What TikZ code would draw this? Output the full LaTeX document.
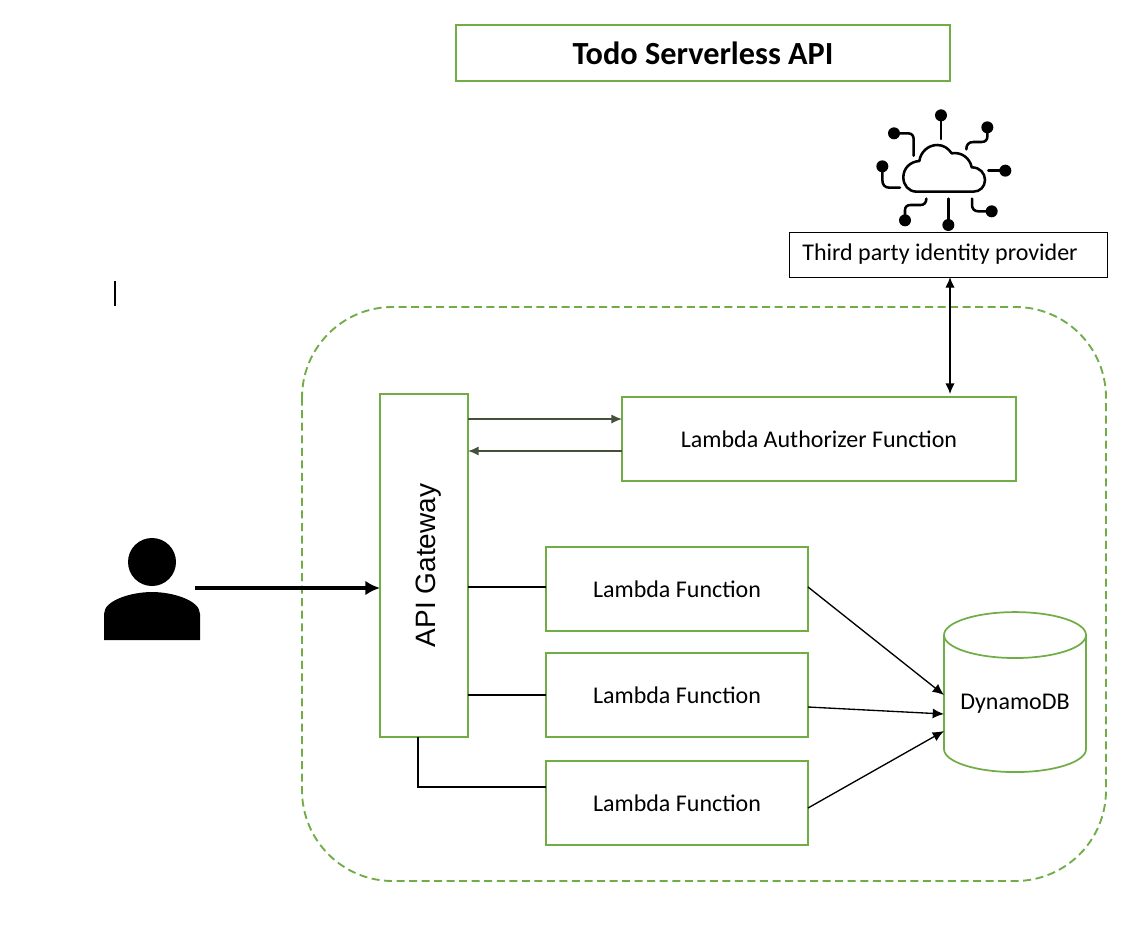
\documentclass[tikz,border=0pt]{standalone}
\usepackage{fontspec}
\setmainfont{Carlito}
\newfontfamily\arialfont{Liberation Sans}
\usetikzlibrary{shapes.geometric}
\usetikzlibrary{arrows.meta}
\definecolor{leaf}{HTML}{70AD47}
\definecolor{moss}{HTML}{44503A}
\tikzset{
	greenbox/.style={draw=leaf, line width=1.5pt, fill=white, inner sep=0pt, outer sep=0pt, align=center, font=\fontsize{18}{20}\selectfont},
	wire/.style={draw=black, line width=1pt},
	tip/.style={-{Latex[length=8.5pt,width=7.5pt]}},
	mossarrow/.style={-{Latex[length=8pt,width=7pt]}, draw=moss, line width=1.2pt},
	iconline/.style={line width=1.9pt, line cap=round, line join=round}
}

\begin{document}
\begin{tikzpicture}[x=0.75pt, y=-0.75pt]
			\useasboundingbox (0,0) rectangle (1144,938);
			% title and outer boundary
			\node[greenbox, minimum width=494*0.75pt, minimum height=56*0.75pt, font=\fontsize{24.2}{26}\selectfont\bfseries] (title) at (703,53) {Todo Serverless API};
			\draw[leaf, line width=1.4pt, dash pattern=on 6pt off 3.4pt, rounded corners=68pt] (302,307) rectangle (1106,881);
			\draw[line width=0.9pt] (115,281) coordinate (cursortop) -- (115,306) coordinate (cursorend);
			% boxes
			\node[greenbox, minimum width=88*0.75pt, minimum height=343*0.75pt] (gateway) at (424,565.5) {\rotatebox{90}{\raisebox{-8.25pt}[0pt][0pt]{\fontsize{21}{24}\arialfont API Gateway}}};
			\node[greenbox, minimum width=394*0.75pt, minimum height=84*0.75pt] (authorizer) at (819,439) {Lambda Authorizer Function};
			\foreach[count=\i] \y in {589, 695, 803}{
				\node[greenbox, minimum width=262*0.75pt, minimum height=84*0.75pt] (lambda\i) at (677,\y) {Lambda Function};};
			\node[draw=black, line width=0.6pt, minimum width=318*0.75pt, minimum height=45*0.75pt, inner sep=0pt, outer sep=0pt, font=\fontsize{18}{20}\selectfont] (provider) at (948,254.5) {Third party identity provider\hspace*{12pt}};
			\node[cylinder, shape border rotate=90, aspect=0.42, draw=leaf, line width=1.3pt, minimum width=142*0.75pt, minimum height=160*0.75pt, inner sep=0pt, outer sep=0pt, font=\fontsize{18}{20}\selectfont] (dynamo) at (1015,704) {DynamoDB};
			% connectors
			\coordinate (dbtop) at (944,695);
			\coordinate (dbmid) at (944,714);
			\coordinate (dblow) at (944,731);
			\coordinate (gatewayfoot) at (418,737);
			\coordinate (lambdaentry) at (546,787);
			\coordinate (providerfoot) at (950,277);
			\coordinate (authorizerhead) at (950,394);
			\draw[mossarrow] (gateway.east |- 0,419) -- (authorizer.west |- 0,419);
			\draw[mossarrow] (authorizer.west |- 0,451) -- (gateway.east |- 0,451);
			\draw[{Latex[length=8pt,width=7pt]}-{Latex[length=8pt,width=7pt]}, wire] (providerfoot) -- (authorizerhead);
			\draw[wire] (gateway.east |- 0,587) -- (lambda1.west |- 0,587);
			\draw[wire] (gateway.east |- lambda2.west) -- (lambda2.west);
			\draw[wire] (gatewayfoot) |- (lambdaentry);
			\draw[tip, wire] (lambda1.east |- 0,587) -- (dbtop);
			\draw[tip, wire] (lambda2.east |- 0,707) -- (dbmid);
			\draw[tip, wire] (lambda3.east |- 0,808) -- (dblow);
			% user figure
			\fill (152,562) circle (24);
			\fill (104,640) coordinate (userfoot) -- (104,614) .. controls (104,600) and (132,592) .. (152,592) .. controls (172,592) and (200,600) .. (200,614) -- (200,640) -- cycle;
			\coordinate (userhand) at (195,588);
			\draw[-{Latex[length=11pt,width=11pt]}, line width=3.4pt] (userhand) -- (gateway.west |- userhand);
			% cloud icon, in zoomed units
			\begin{scope}[shift={(850,90)}, x=0.25pt, y=-0.25pt]
				\draw[iconline] (200,305) .. controls (175,305) and (160,285) .. (160,262) .. controls (160,235) and (180,215) .. (208,213) .. controls (212,185) and (235,165) .. (262,165) .. controls (280,165) and (295,175) .. (305,190) .. controls (335,185) and (360,205) .. (365,232) .. controls (390,232) and (405,250) .. (405,270) .. controls (405,290) and (390,305) .. (370,305) -- cycle;
				\foreach \a/\b in {273/76, 97/229, 132/130, 412/112, 466/242, 425/364, 295/405, 165/391}{
					\fill (\a,\b) circle (18);};
				\draw[iconline] (273,76) -- (273,147);
				\draw[iconline] (132,130) -- (175,130) .. controls (188,130) and (191,140) .. (191,150) -- (191,197);
				\draw[iconline] (412,112) -- (412,140) .. controls (412,150) and (405,156) .. (395,156) -- (370,156) .. controls (355,156) and (349,165) .. (349,178);
				\draw[iconline] (97,229) -- (97,270) .. controls (97,285) and (105,293) .. (118,293) -- (150,293);
				\draw[iconline] (466,242) -- (415,242);
				\draw[iconline] (425,364) -- (385,364) .. controls (372,364) and (366,355) .. (366,345) -- (366,326);
				\draw[iconline] (295,405) -- (295,326);
				\draw[iconline] (165,391) -- (165,360) .. controls (165,350) and (172,345) .. (182,345) -- (212,345) .. controls (222,345) and (229,338) .. (229,326);
			\end{scope}
		\end{tikzpicture}
\end{document}
